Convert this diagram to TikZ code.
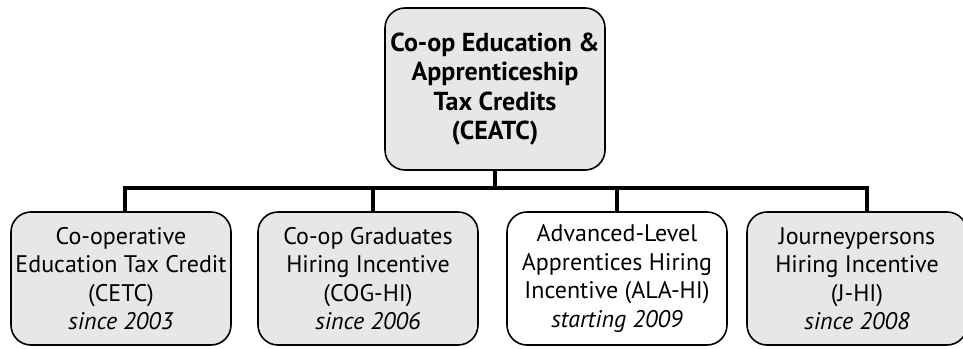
\documentclass[tikz,border=0pt]{standalone}
\usepackage{fontspec}
\setmainfont{PT Sans}
\usetikzlibrary{positioning}

\definecolor{boxgray}{RGB}{230,231,232}

\begin{document}
\begin{tikzpicture}[x=1pt,y=1pt,
  box/.style={draw,line width=1.6pt,rounded corners=20pt,minimum width=220pt,align=center,font=\fontsize{24}{28.5}\selectfont},
  link/.style={line width=4.5pt}]
\useasboundingbox (0,0) rectangle (963,-348);

\node[box,fill=boxgray,minimum height=162pt,font=\fontsize{26}{29.5}\selectfont\bfseries] (CEATC) at (495,-89) {Co-op Education \&\\Apprenticeship\\Tax Credits\\(CEATC)};

\node[box,fill=boxgray,minimum height=133pt] (CETC) at (121,-278.5) {Co-operative\\Education Tax Credit\\(CETC)\\\textit{since 2003}};
\node[box,fill=boxgray,minimum height=133pt] (COG) at (368,-278.5) {Co-op Graduates\\Hiring Incentive\\(COG-HI)\\\textit{since 2006}};
\node[box,fill=white,minimum height=133pt] (ALA) at (617,-278.5) {Advanced-Level\\Apprentices Hiring\\Incentive (ALA-HI)\\\textit{starting 2009}};
\node[box,fill=boxgray,minimum height=133pt] (JHI) at (857,-278.5) {Journeypersons\\Hiring Incentive\\(J-HI)\\\textit{since 2008}};

\coordinate (bar) at (495,-188);
\draw[link] (CEATC.south) -- (bar);
\draw[link] (bar) -| ([xshift=4pt]CETC.north);
\draw[link] (bar) -| ([xshift=5pt]COG.north);
\draw[link] (bar) -| (ALA.north);
\draw[link] (bar) -| ([xshift=10pt]JHI.north);
\end{tikzpicture}
\end{document}
